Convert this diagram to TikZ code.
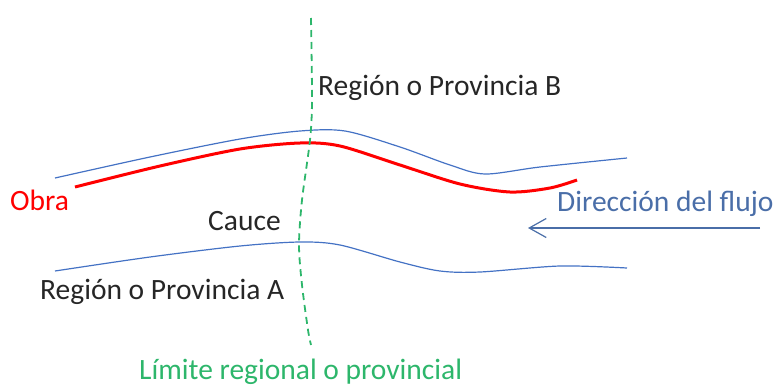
\documentclass[tikz,border=0pt]{standalone}
\usepackage{fontspec}
\setmainfont{Carlito}
\usetikzlibrary{arrows.meta}
\definecolor{riverblue}{HTML}{4472C4}
\definecolor{flowblue}{HTML}{4A6EA8}
\definecolor{limitgreen}{HTML}{2DB66B}
\definecolor{textgray}{HTML}{262626}
\tikzset{
  bank/.style={riverblue, line width=1.2pt},
  lbl/.style={anchor=base west, inner sep=0pt, font=\fontsize{29.5}{35}\selectfont},
}
\begin{document}
\begin{tikzpicture}[x=1pt, y=-1pt]
    \useasboundingbox (0,0) rectangle (773,386);
    % river banks
    \draw [bank] plot [smooth] coordinates {(55,178) (150,157) (240,139) (300,131) (345,131) (400,147) (450,165) (485,174) (540,167) (627,158)};
    \draw [bank] plot [smooth] coordinates {(55,271) (150,257) (240,246) (300,242) (340,245) (400,262) (440,271) (480,272) (560,266) (627,268)};
    % work
    \draw [red, line width=3pt] plot [smooth] coordinates {(75,187) (160,166) (240,149) (300,143) (340,146) (400,165) (460,184) (510,192) (550,188) (577,180)};
    % boundary
    \draw [limitgreen, line width=1.8pt, dash pattern=on 7pt off 5pt] plot [smooth] coordinates {(311,18) (312,100) (310,140) (302,200) (299,245) (302,285) (308,330) (311,345)};
    % flow direction
    \coordinate (flowstart) at (760,228);
    \coordinate (flowend) at (528,228);
    \draw [flowblue, line width=1.2pt, -{Straight Barb[length=17pt,width=19pt]}] (flowstart) -- (flowend);
    % labels
    \node [lbl, textgray] (regionB) at (318,95) {Región o Provincia B};
    \node [lbl, red] (obra) at (10,210) {Obra};
    \node [lbl, textgray] (cauce) at (208,230) {Cauce};
    \node [lbl, textgray] (regionA) at (40,299) {Región o Provincia A};
    \node [lbl, flowblue] (flujo) at (557,211) {Dirección del flujo};
    \node [lbl, limitgreen] (limite) at (139,379) {Límite regional o provincial};
\end{tikzpicture}
\end{document}
